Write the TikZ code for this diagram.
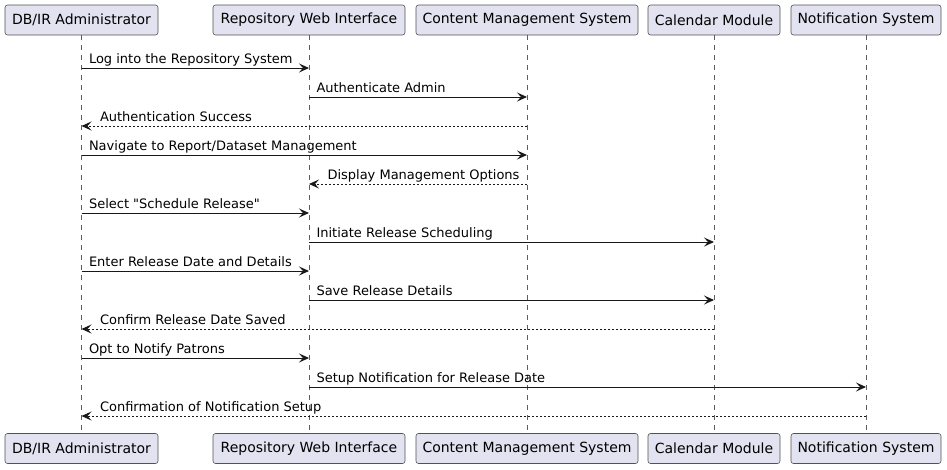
\documentclass[tikz,border=0pt]{standalone}
\usepackage{fontspec}
\setmainfont{DejaVu Sans}[Ligatures=TeXOff]
\usetikzlibrary{arrows.meta}
\definecolor{pbox}{HTML}{E2E2F0}
\definecolor{pline}{HTML}{181818}
\tikzset{
  part/.style={draw=pline!75, fill=pbox, rounded corners=2.5pt, line width=0.6pt,
    minimum height=30pt, inner xsep=0pt, font=\fontsize{14}{16}\selectfont, text=black},
  life/.style={draw=pline!70, line width=0.5pt, dash pattern=on 5pt off 5pt},
  msg/.style={draw=pline, line width=1pt, -{Stealth[length=10pt,width=9pt,inset=4pt]}},
  ret/.style={msg, dash pattern=on 2pt off 2pt},
  lbl/.style={font=\fontsize{13}{15}\selectfont, inner sep=0pt, text=black},
}
\begin{document}
\begin{tikzpicture}[x=1pt,y=-1pt]
\useasboundingbox (0,0) rectangle (947,469);
% top participants
\node[part, minimum width=153pt] (a1) at (81.5,20) {DB/IR Administrator};
\node[part, minimum width=192pt] (a2) at (309,20) {Repository Web Interface};
\node[part, minimum width=222pt] (a3) at (527,20) {Content Management System};
\node[part, minimum width=132pt] (a4) at (714,20) {Calendar Module};
\node[part, minimum width=150pt] (a5) at (866,20) {Notification System};
% bottom participants
\node[part, minimum width=153pt] (b1) at (81.5,448.5) {DB/IR Administrator};
\node[part, minimum width=192pt] (b2) at (309,448.5) {Repository Web Interface};
\node[part, minimum width=222pt] (b3) at (527,448.5) {Content Management System};
\node[part, minimum width=132pt] (b4) at (714,448.5) {Calendar Module};
\node[part, minimum width=150pt] (b5) at (866,448.5) {Notification System};
% lifelines
\foreach \i in {1,...,5} { \draw[life] (a\i.south) -- (b\i.north); }
% message rows
\foreach \k/\y in {1/68,2/97,3/126,4/155,5/184,6/213,7/242,8/271,9/300,10/329,11/358,12/387,13/416}
  { \coordinate (r\k) at (0,\y); }
% messages
\draw[msg] (a1 |- r1) -- (a2 |- r1) node[lbl, pos=0, anchor=base west, xshift=7pt, yshift=5pt] {Log into the Repository System};
\draw[msg] (a2 |- r2) -- (a3 |- r2) node[lbl, pos=0, anchor=base west, xshift=7pt, yshift=5pt] {Authenticate Admin};
\draw[ret] (a3 |- r3) -- (a1 |- r3) node[lbl, pos=1, anchor=base west, xshift=18pt, yshift=5pt] {Authentication Success};
\draw[msg] (a1 |- r4) -- (a3 |- r4) node[lbl, pos=0, anchor=base west, xshift=7pt, yshift=5pt] {Navigate to Report/Dataset Management};
\draw[ret] (a3 |- r5) -- (a2 |- r5) node[lbl, pos=1, anchor=base west, xshift=18pt, yshift=5pt] {Display Management Options};
\draw[msg] (a1 |- r6) -- (a2 |- r6) node[lbl, pos=0, anchor=base west, xshift=7pt, yshift=5pt] {Select "Schedule Release"};
\draw[msg] (a2 |- r7) -- (a4 |- r7) node[lbl, pos=0, anchor=base west, xshift=7pt, yshift=5pt] {Initiate Release Scheduling};
\draw[msg] (a1 |- r8) -- (a2 |- r8) node[lbl, pos=0, anchor=base west, xshift=7pt, yshift=5pt] {Enter Release Date and Details};
\draw[msg] (a2 |- r9) -- (a4 |- r9) node[lbl, pos=0, anchor=base west, xshift=7pt, yshift=5pt] {Save Release Details};
\draw[ret] (a4 |- r10) -- (a1 |- r10) node[lbl, pos=1, anchor=base west, xshift=18pt, yshift=5pt] {Confirm Release Date Saved};
\draw[msg] (a1 |- r11) -- (a2 |- r11) node[lbl, pos=0, anchor=base west, xshift=7pt, yshift=5pt] {Opt to Notify Patrons};
\draw[msg] (a2 |- r12) -- (a5 |- r12) node[lbl, pos=0, anchor=base west, xshift=7pt, yshift=5pt] {Setup Notification for Release Date};
\draw[ret] (a5 |- r13) -- (a1 |- r13) node[lbl, pos=1, anchor=base west, xshift=18pt, yshift=5pt] {Confirmation of Notification Setup};
\end{tikzpicture}
\end{document}
